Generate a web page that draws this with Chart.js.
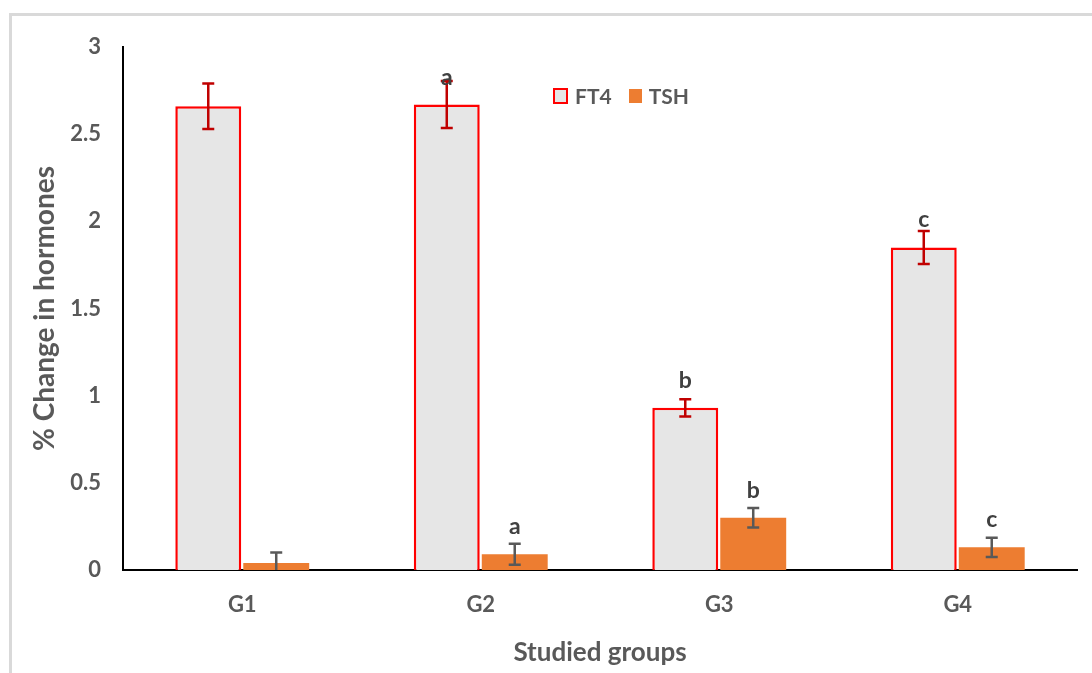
<!DOCTYPE html>
<html>
<head>
<meta charset="utf-8">
<script src="https://cdn.jsdelivr.net/npm/chart.js@4.4.0/dist/chart.umd.min.js"></script>
<style>
  html, body { margin: 0; padding: 0; background: #fff; overflow: hidden; }
  #wrap { position: relative; width: 1092px; height: 673px; }
  #frame {
    position: absolute; left: 9px; top: 13px; width: 1100px; height: 700px;
    border-left: 3px solid #d9d9d9; border-top: 3px solid #d9d9d9;
  }
  #legend {
    position: absolute; left: 553px; top: 83px;
    font: bold 21px Lato, sans-serif; color: #595959;
    display: flex; align-items: center;
  }
  .box { display: inline-block; width: 11px; height: 12px; margin-right: 7px; }
  #legend span.t { margin-right: 17px; }
</style>
</head>
<body>
<div id="wrap">
  <div id="frame"></div>
  <canvas id="chart" width="1092" height="673"></canvas>
  <div id="legend">
    <span class="box" style="background:#e6e6e6;border:2px solid #ff0000"></span><span class="t">FT4</span>
    <span class="box" style="background:#ed7d31;width:13px;height:14px"></span><span>TSH</span>
  </div>
</div>
<script>
// data
const groups = ["G1", "G2", "G3", "G4"];
const ft4 = [2.66, 2.67, 0.93, 1.85];
const ft4Err = [0.13, 0.135, 0.05, 0.095];
const tsh = [0.04, 0.09, 0.30, 0.13];
const tshErr = [0.06, 0.06, 0.056, 0.055];
const ft4Letters = ["", "a", "b", "c"];
const tshLetters = ["", "a", "b", "c"];
const yTicks = [0, 0.5, 1, 1.5, 2, 2.5, 3];

const errors = [ft4Err, tshErr];
const letters = [ft4Letters, tshLetters];
const errColors = ["#c00000", "#595959"];

// error bars and letters on top of the bars
const extras = {
  id: "extras",
  afterDatasetsDraw(chart) {
    const ctx = chart.ctx;
    const y = chart.scales.y;
    chart.data.datasets.forEach((ds, i) => {
      const meta = chart.getDatasetMeta(i);
      meta.data.forEach((bar, j) => {
        const v = ds.data[j];
        const e = errors[i][j];
        const top = y.getPixelForValue(v + e);
        const bot = y.getPixelForValue(Math.max(v - e, 0));
        ctx.save();
        ctx.strokeStyle = errColors[i];
        ctx.lineWidth = 2.5;
        ctx.beginPath();
        ctx.moveTo(bar.x, top); ctx.lineTo(bar.x, bot);
        ctx.moveTo(bar.x - 6, top); ctx.lineTo(bar.x + 6, top);
        if (v - e > 0) { ctx.moveTo(bar.x - 6, bot); ctx.lineTo(bar.x + 6, bot); }
        ctx.stroke();
        const txt = letters[i][j];
        if (txt) {
          ctx.fillStyle = "#404040";
          ctx.font = "bold 23px Lato, sans-serif";
          ctx.textAlign = "center";
          ctx.textBaseline = "alphabetic";
          ctx.fillText(txt, bar.x, bar.y - 20);
        }
        ctx.restore();
      });
    });
  }
};

const tickFont = { family: "Lato", size: 22, weight: "bold" };

new Chart(document.getElementById("chart").getContext("2d"), {
  type: "bar",
  data: {
    labels: groups,
    datasets: [
      {
        label: "FT4",
        data: ft4,
        backgroundColor: "#e6e6e6",
        borderColor: "#ff0000",
        borderWidth: 2.5,
        borderSkipped: "bottom",
        barPercentage: 0.97,
        categoryPercentage: 0.57
      },
      {
        label: "TSH",
        data: tsh,
        backgroundColor: "#ed7d31",
        borderWidth: 0,
        barPercentage: 0.97,
        categoryPercentage: 0.57
      }
    ]
  },
  options: {
    responsive: false,
    animation: false,
    layout: { padding: { top: 47, right: 15, left: 0, bottom: 0 } },
    plugins: { legend: { display: false }, tooltip: { enabled: false } },
    scales: {
      x: {
        grid: { display: false, drawTicks: false },
        border: { color: "#000", width: 2 },
        ticks: { color: "#595959", font: tickFont, padding: 22 },
        title: {
          display: true, text: "Studied groups", color: "#595959",
          font: { family: "Lato", size: 26, weight: "bold" }, padding: { top: 0, bottom: 5 }
        },
        afterFit: s => { s.height = 103; }
      },
      y: {
        min: 0, max: 3,
        afterBuildTicks: s => { s.ticks = yTicks.map(v => ({ value: v })); },
        grid: { display: false, drawTicks: false },
        border: { color: "#000", width: 2 },
        ticks: { color: "#595959", font: tickFont, padding: 22, callback: v => String(v) },
        title: {
          display: true, text: "% Change in hormones", color: "#595959",
          font: { family: "Lato", size: 28, weight: "bold" }, padding: { top: 28, bottom: 0 }
        },
        afterFit: s => { s.width = 123; }
      }
    }
  },
  plugins: [extras]
});
</script>
</body>
</html>
